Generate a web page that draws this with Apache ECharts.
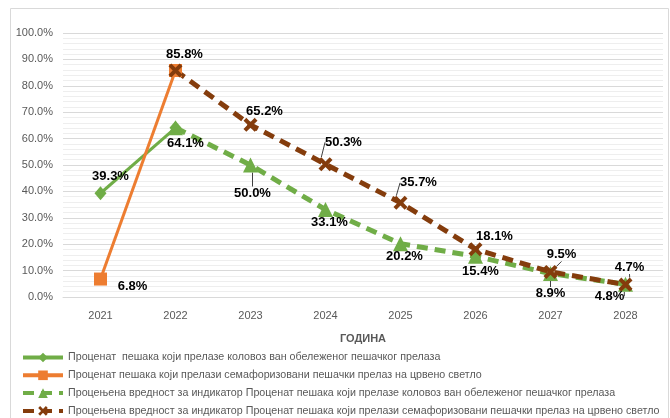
<!DOCTYPE html>
<html>
<head>
<meta charset="utf-8">
<script src="https://cdn.jsdelivr.net/npm/echarts@6/dist/echarts.min.js"></script>
<style>
  html, body { margin: 0; padding: 0; background: #fff; }
  #chart { width: 670px; height: 418px; }
</style>
</head>
<body>
<div id="chart"></div>
<script>
const years = ['2021', '2022', '2023', '2024', '2025', '2026', '2027', '2028']

const actualOutside = [39.3, 64.1, '-', '-', '-', '-', '-', '-']
const actualRedLight = [6.8, 85.8, '-', '-', '-', '-', '-', '-']
const targetOutside = ['-', 64.1, 50.0, 33.1, 20.2, 15.4, 8.9, 4.8]
const targetRedLight = ['-', 85.8, 65.2, 50.3, 35.7, 18.1, 9.5, 4.7]

const seriesNames = [
  'Проценат  пешака који прелазе коловоз ван обележеног пешачког прелаза',
  'Проценат пешака који прелази семафоризовани пешачки прелаз на црвено светло',
  'Процењена вредност за индикатор Проценат пешака који прелазе коловоз ван обележеног пешачког прелаза',
  'Процењена вредност за индикатор Проценат пешака који прелази семафоризовани пешачки прелаз на црвено светло',
]

// label offsets from the point, per series / year index
const labelShift = [
  { 0: [10, -17], 1: [10, 16] },
  { 0: [32, 7], 1: [9, -16] },
  { 2: [2, 28], 3: [4, 13], 4: [4, 13], 5: [5, 15], 6: [0, 20], 7: [-16, 12] },
  { 2: [14, -13], 3: [18, -22], 4: [18, -20], 5: [19, -13], 6: [11, -17], 7: [4, -17] },
]
const leaders = { 2: [2, 6, 7], 3: [3, 4, 6, 7] }

const xMark = 'path://M2,0 L5,3 L8,0 L10,2 L7,5 L10,8 L8,10 L5,7 L2,10 L0,8 L3,5 L0,2 Z'

const chart = echarts.init(document.getElementById('chart'))

const labelFont = {
  show: true,
  position: 'inside',
  fontFamily: 'Liberation Sans',
  fontSize: 13,
  fontWeight: 'bold',
  color: '#000',
  formatter: (p) => p.value.toFixed(1) + '%',
}

const buildData = (values, si) =>
  values.map((v, i) => {
    if (v === '-') return v
    const shift = labelShift[si][i]
    return {
      value: v,
      label: shift ? { show: true } : { show: false },
      labelLine: { show: (leaders[si] || []).includes(i) },
    }
  })

const series = [
  { data: actualOutside, color: '#70AD47', symbol: 'diamond', size: [12, 14], width: 3, dash: 'solid' },
  { data: actualRedLight, color: '#ED7D31', symbol: 'rect', size: 13, width: 3, dash: 'solid' },
  { data: targetOutside, color: '#70AD47', symbol: 'triangle', size: 15, width: 5, dash: [11, 7] },
  { data: targetRedLight, color: '#843C0C', symbol: xMark, size: 14, width: 5, dash: [11, 7] },
].map((s, si) => ({
  type: 'line',
  name: seriesNames[si],
  data: buildData(s.data, si),
  symbol: s.symbol,
  symbolSize: s.size,
  showAllSymbol: true,
  connectNulls: false,
  itemStyle: { color: s.color },
  lineStyle: { color: s.color, width: s.width, type: s.dash },
  label: labelFont,
  labelLine: { lineStyle: { color: '#404040', width: 1 } },
  labelLayout: (p) => {
    const shift = labelShift[si][p.dataIndex] || [0, 0]
    return { dx: shift[0], dy: shift[1] }
  },
  animation: false,
}))

chart.setOption({
  animation: false,
  graphic: [
    {
      type: 'rect',
      shape: { x: 10.5, y: 8.5, width: 658, height: 420 },
      style: { fill: 'none', stroke: '#d9d9d9', lineWidth: 1 },
      silent: true,
    },
  ],
  grid: { left: 63, right: 7, top: 33, height: 264 },
  legend: {
    orient: 'vertical',
    left: 21,
    top: 352,
    height: 66,
    padding: 0,
    itemWidth: 40,
    itemHeight: 12,
    itemGap: 6.8,
    lineStyle: { width: 4 },
    textStyle: { fontFamily: 'Liberation Sans', fontSize: 10.7, color: '#595959' },
    data: seriesNames,
  },
  xAxis: {
    type: 'category',
    data: years,
    axisLine: { lineStyle: { color: '#d9d9d9' } },
    axisTick: { show: false },
    axisLabel: { color: '#595959', fontFamily: 'Liberation Sans', fontSize: 11, margin: 13 },
    name: 'ГОДИНА',
    nameLocation: 'middle',
    nameGap: 36,
    nameTextStyle: { color: '#595959', fontFamily: 'Liberation Sans', fontSize: 11, fontWeight: 'bold' },
  },
  yAxis: {
    type: 'value',
    min: 0,
    max: 100,
    interval: 10,
    axisLine: { show: false },
    axisTick: { show: false },
    axisLabel: {
      color: '#595959',
      fontFamily: 'Liberation Sans',
      fontSize: 11,
      margin: 10,
      formatter: (v) => v.toFixed(1) + '%',
    },
    splitLine: { lineStyle: { color: '#d9d9d9' } },
    minorTick: { show: false, splitNumber: 5 },
    minorSplitLine: { show: true, lineStyle: { color: '#eeeeee' } },
  },
  series,
})
</script>
</body>
</html>
